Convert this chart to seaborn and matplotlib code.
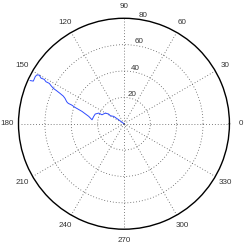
import numpy as np
import matplotlib
matplotlib.use("Agg")
import matplotlib.pyplot as plt
import seaborn as sns

# data: path from centre outward (theta in degrees, r)
theta_deg = [143, 143, 144.3, 149.7, 147.6, 150.2, 157.8, 157.1, 161.3, 166.3, 172.9,
             168.2, 163.6, 161.5, 160.3, 159.9, 159.0, 156.7, 155.5, 154.6, 153.9,
             153.4, 152.4, 151.6, 151.7, 150.9, 151.2, 150.1, 150.8, 152.0, 154.8, 155.3]
r_vals = [0.0, 5.0, 9.6, 12.0, 13.7, 16.3, 18.0, 20.8, 23.0, 23.6, 24.4,
          27.3, 33.2, 39.2, 42.1, 45.0, 46.5, 48.7, 50.6, 53.7, 56.8,
          59.9, 62.5, 64.4, 67.2, 69.2, 71.8, 74.1, 75.8, 76.2, 76.0, 78.4]
angle_ticks = [0, 30, 60, 90, 120, 150, 180, 210, 240, 270, 300, 330]
radial_ticks = [20, 40, 60, 80]
r_max = 80

sns.set_style("white")
plt.rcParams['font.family'] = ['Liberation Sans', 'DejaVu Sans']

fig = plt.figure(figsize=(2.47, 2.47), dpi=100)
ax = fig.add_axes([0.0749, 0.072, 0.854, 0.854], projection='polar')

sns.lineplot(x=np.deg2rad(theta_deg), y=r_vals, ax=ax, sort=False, estimator=None,
             color='#2f4bff', linewidth=0.7)

ax.set_ylim(0, r_max)
ax.set_thetagrids(angle_ticks, labels=[''] * len(angle_ticks))
ax.set_rgrids(radial_ticks[:-1], labels=[''] * (len(radial_ticks) - 1))
ax.grid(True, linestyle=(0, (1, 2.5)), color='#555555', linewidth=0.6)
ax.spines['polar'].set_linewidth(1.0)
ax.spines['polar'].set_color('black')
ax.set_xlabel('')
ax.set_ylabel('')

fs = 5.8
for a in angle_ticks:
    ax.text(np.deg2rad(a), r_max * 1.11, str(a), ha='center', va='center',
            fontsize=fs, color='#333333')
for rv in radial_ticks:
    ax.text(np.deg2rad(82), rv, str(rv), ha='left', va='bottom',
            fontsize=fs, color='#333333')

fig.savefig('out.png', dpi=100)
